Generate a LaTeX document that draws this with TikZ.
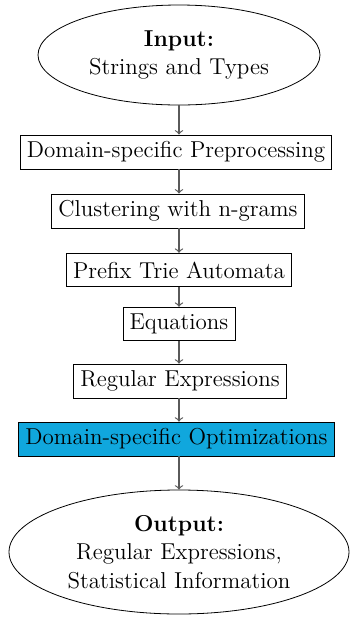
\documentclass[tikz,border=0pt]{standalone}
\usetikzlibrary{shapes.geometric}
\definecolor{optblue}{RGB}{16,167,221}
\definecolor{linkgray}{RGB}{90,90,90}
\begin{document}
\begin{tikzpicture}[x=0.5pt,y=-0.5pt,
  font=\fontsize{11.5}{14.2}\selectfont,
  stage/.style={draw,rectangle,inner sep=3.3pt,minimum height=16.8pt},
  terminal/.style={draw,ellipse,align=center,inner sep=0pt},
  link/.style={->,draw=linkgray,semithick}]
  \useasboundingbox (0,0) rectangle (351,618);
  \coordinate (axis) at (179,0);
  \node[terminal,minimum width=141pt,minimum height=50pt] (in) at (179,55)
    {\textbf{Input:}\\Strings and Types};
  \node[stage] (pre) at (176,152) {Domain-specific Preprocessing};
  \node[stage] (clu) at (178,211) {Clustering with n-grams};
  \node[stage] (tri) at (179,270) {Prefix Trie Automata};
  \node[stage] (equ) at (179,324) {Equations};
  \node[stage] (reg) at (180,381) {Regular Expressions};
  \node[stage,fill=optblue] (opt) at (176.5,439) {Domain-specific Optimizations};
  \node[terminal,minimum width=170pt,minimum height=62pt] (out) at (179,552)
    {\textbf{Output:}\\Regular Expressions,\\Statistical Information};
  \draw[link] (in.south) -- (pre.north -| axis);
  \draw[link] (pre.south -| axis) -- (clu.north -| axis);
  \draw[link] (clu.south -| axis) -- (tri.north -| axis);
  \draw[link] (tri.south -| axis) -- (equ.north -| axis);
  \draw[link] (equ.south -| axis) -- (reg.north -| axis);
  \draw[link] (reg.south -| axis) -- (opt.north -| axis);
  \draw[link] (opt.south -| axis) -- (out.north);
\end{tikzpicture}
\end{document}
